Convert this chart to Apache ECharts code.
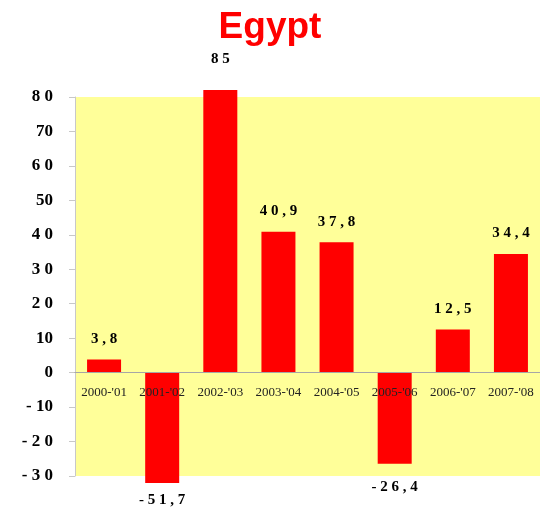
<!DOCTYPE html>
<html>
<head>
<meta charset="utf-8">
<script src="https://cdn.jsdelivr.net/npm/echarts@6/dist/echarts.min.js"></script>
<style>
  html, body { margin: 0; padding: 0; background: #fff; }
  #chart { width: 540px; height: 510px; }
</style>
</head>
<body>
<div id="chart"></div>
<script>
// data
const categories = ["2000-'01", "2001-'02", "2002-'03", "2003-'04", "2004-'05", "2005-'06", "2006-'07", "2007-'08"];
const values = [3.8, -51.7, 85, 40.9, 37.8, -26.4, 12.5, 34.4];
const tickValues = [-30, -20, -10, 0, 10, 20, 30, 40, 50, 60, 70, 80];
const tickLabels = ['- 3 0', '- 2 0', '- 10', '0', '10', '2 0', '3 0', '4 0', '50', '6 0', '70', '8 0'];

const serif = '"Liberation Serif", "Times New Roman", serif';

// bars run a bit past the yellow frame (-30..80), so they sit on a wider hidden axis
const barMin = -32;
const barMax = 82;
const barTop = 90;
const barBottom = 27;
const barHeight = 510 - barTop - barBottom;
// lift the category axis up to the zero line
const zeroOffset = -barHeight * (0 - barMin) / (barMax - barMin);

const chart = echarts.init(document.getElementById('chart'));

const barData = values.map(function (v) {
  const clipped = v > barMax || v < barMin;
  return {
    value: v,
    label: {
      position: v < 0 ? 'bottom' : 'top',
      distance: clipped ? (v > 0 ? 23 : 10) : (v < 0 ? 16 : 13)
    }
  };
});

chart.setOption({
  animation: false,
  title: {
    text: 'Egypt',
    left: 'center',
    top: 4,
    textStyle: {
      color: '#ff0000',
      fontFamily: '"Liberation Sans", Arial, sans-serif',
      fontWeight: 'bold',
      fontSize: 37
    }
  },
  grid: [
    // yellow frame with the visible value axis
    { left: 75, right: 0, top: 97, bottom: 34, show: true, backgroundColor: '#ffff99', borderWidth: 0 },
    // bars
    { left: 75, right: 0, top: barTop, bottom: barBottom }
  ],
  xAxis: [
    { gridIndex: 0, type: 'category', data: categories, show: false },
    {
      gridIndex: 1,
      type: 'category',
      data: categories,
      position: 'bottom',
      offset: zeroOffset,
      z: 10,
      axisLine: { onZero: false, lineStyle: { color: '#a6a6a6', width: 1 } },
      axisTick: { show: false },
      axisLabel: {
        interval: 0,
        margin: 13,
        color: '#222',
        fontFamily: serif,
        fontSize: 13
      }
    }
  ],
  yAxis: [
    {
      gridIndex: 0,
      type: 'value',
      min: -30,
      max: 80,
      interval: 10,
      splitLine: { show: false },
      axisLine: { show: true, lineStyle: { color: '#c8c8c8' } },
      axisTick: { show: true, length: 6, lineStyle: { color: '#c8c8c8' } },
      axisLabel: {
        margin: 22,
        color: '#000',
        fontFamily: serif,
        fontWeight: 'bold',
        fontSize: 17,
        formatter: function (v) {
          const i = tickValues.indexOf(v);
          return i >= 0 ? tickLabels[i] : '';
        }
      }
    },
    {
      gridIndex: 1,
      type: 'value',
      min: barMin,
      max: barMax,
      splitLine: { show: false },
      axisLine: { show: false },
      axisTick: { show: false },
      axisLabel: { show: false }
    }
  ],
  series: [
    {
      type: 'bar',
      xAxisIndex: 1,
      yAxisIndex: 1,
      data: barData,
      barWidth: 34,
      clip: true,
      itemStyle: { color: '#ff0000' },
      label: {
        show: true,
        color: '#000',
        fontFamily: serif,
        fontWeight: 'bold',
        fontSize: 15,
        formatter: function (p) {
          return String(p.value).replace('.', ',').split('').join(' ');
        }
      }
    }
  ]
});
</script>
</body>
</html>
